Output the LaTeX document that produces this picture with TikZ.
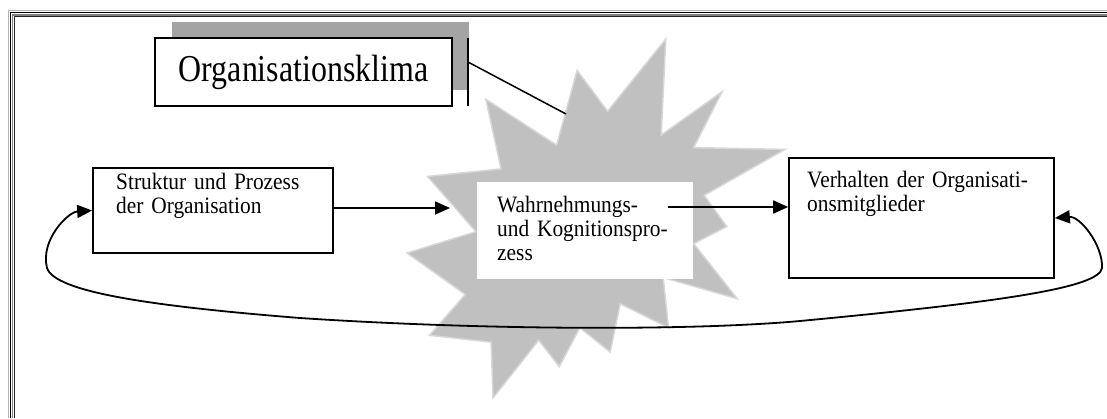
\documentclass[tikz,border=0pt]{standalone}
\usepackage{fontspec}
\setmainfont{Liberation Serif}
\usetikzlibrary{arrows.meta,calc,shadows}
\definecolor{starfill}{HTML}{C0C0C0}
\definecolor{starline}{HTML}{D8D8D8}
\definecolor{shadowgray}{HTML}{A4A4A4}
\newcommand\boxfont{\fontsize{23.5}{24}\selectfont\addfontfeature{FakeStretch=0.91}}
\newcommand\titlefont{\fontsize{38}{40}\selectfont\addfontfeature{FakeStretch=0.84}}
\begin{document}
\begin{tikzpicture}[x=1pt,y=-1pt,
  stepbox/.style={draw, line width=1.7pt, fill=white, inner sep=0pt},
  boxtext/.style={anchor=base west, inner sep=0pt, text width=#1, align=left, font=\boxfont},
  link/.style={line width=1.8pt},
  arrow/.style={link, -{Triangle[length=15pt,width=13pt]}},
  twoway/.style={link, {Triangle[length=15pt,width=13pt]}-{Triangle[length=15pt,width=13pt]}},
  burst/.style={fill=starfill, draw=starline, line width=1.5pt, line join=miter}
]
\useasboundingbox (0,0) rectangle (1107,418);

% page frame: layered border along the top and left edges
\draw[gray!60, line width=1.8pt] (8.5,418) -- (8.5,10.5) -- (1107,10.5);
\draw[black, line width=1.2pt] (10.6,418) -- (10.6,12.8) -- (1107,12.8);
\draw[gray, line width=1.6pt] (12.6,418) -- (12.6,14.8) -- (1107,14.8);
\draw[black!85, line width=0.9pt] (14.4,418) -- (14.4,16.6) -- (1107,16.6);

% explosion shape behind the perception box
\path[burst] (607.6,111.2) -- (665.8,39) -- (661.2,135.0) -- (722.1,91.7)
  -- (693.7,147.6) -- (785,149.4) -- (704.2,195.3) -- (726.7,226.6)
  -- (693.7,243.6) -- (737.3,298.8) -- (663.2,277.5) -- (668.5,327.7)
  -- (620.2,303.8) -- (610.2,352.2) -- (579.8,327.7) -- (559.3,366.6)
  -- (538.7,340.2) -- (493.0,398) -- (491.1,342.2) -- (429.5,335.3)
  -- (465.3,294.5) -- (407,253.0) -- (475.9,231.7) -- (427.5,176.4)
  -- (501.0,168.9) -- (485.8,99.2) -- (556.6,145.1) -- (577.1,70.4) -- cycle;

% title callout with offset shadow
\node[stepbox, minimum width=297pt, minimum height=68pt, font=\titlefont,
      general shadow={fill=shadowgray, shadow xshift=16.5pt, shadow yshift=16.5pt}]
      (ok) at (303.5,72) {Organisationsklima};
\coordinate (barTop) at (468,38);
\coordinate (barBot) at (468,106);
\coordinate (lead) at (468,62);
\coordinate (hit) at (566,114);
\draw[link] (barTop) -- (barBot);
\draw[link, line width=1.5pt] (lead) -- (hit);

% process boxes
\node[stepbox, minimum width=240pt, minimum height=85pt] (lb) at (213,210.5) {};
\node[boxtext=210pt] (lbt) at (116,189) {Struktur und Prozess\\der Organisation};

\node[fill=white, inner sep=0pt, minimum width=216pt, minimum height=97pt] (mb) at (585,230.5) {};
\node[boxtext=190pt] (mbt) at (497,212) {Wahrnehmungs-\\und Kognitionspro-\\zess};

\node[stepbox, minimum width=265pt, minimum height=120pt] (rb) at (921.5,218) {};
\node[boxtext=245pt] (rbt) at (807,187) {Verhalten der Organisati-\\onsmitglieder};

% forward arrows
\coordinate (in1) at (450,208);
\draw[arrow] (lb.east |- in1) -- (in1);
\coordinate (out2) at (668,207);
\draw[arrow] (out2) -- (rb.west |- out2);

% feedback loop
\draw[twoway] (rb.east) .. controls (1080,216) and (1103,245) .. (1102,268)
  .. controls (1099,288) and (1000,302) .. (800,321)
  .. controls (690,331) and (480,330) .. (300,318)
  .. controls (150,306) and (55,292) .. (47,268)
  .. controls (40,240) and (68,212) .. (lb.west);
\end{tikzpicture}
\end{document}
